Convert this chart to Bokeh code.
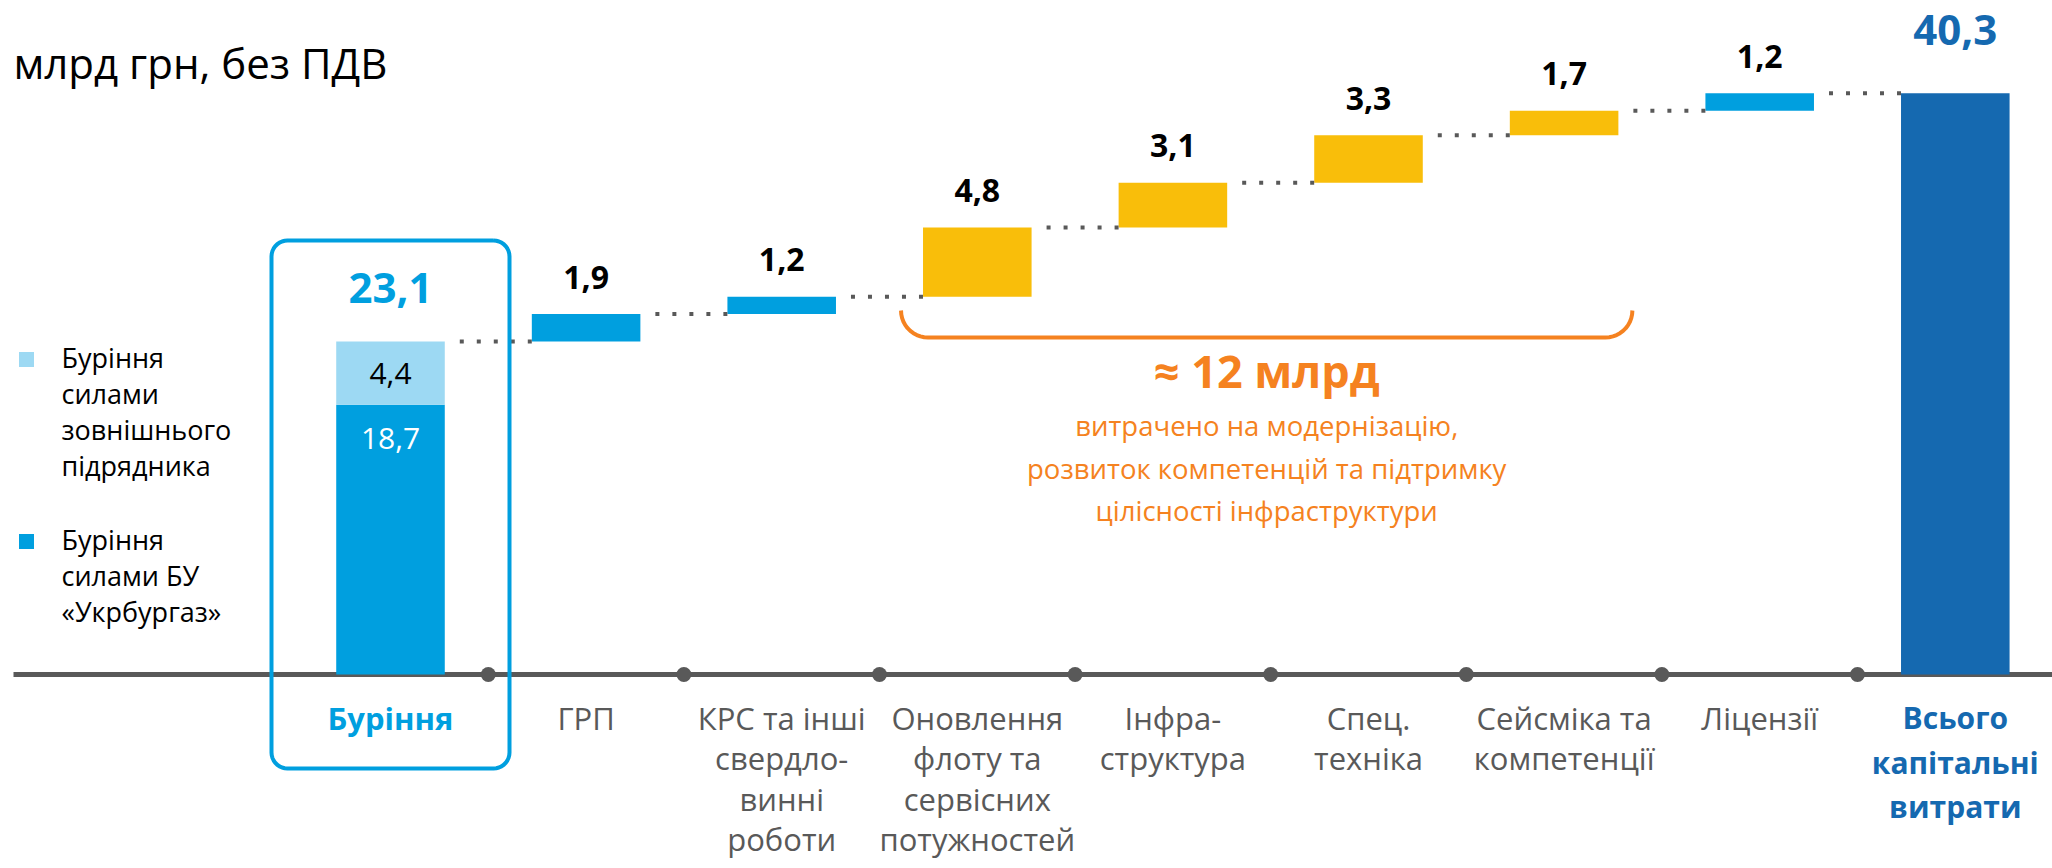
import numpy as np
from bokeh.plotting import figure
from bokeh.models import Range1d
from bokeh.core.properties import value
from bokeh.embed import file_html
from bokeh.resources import INLINE

# ---------------- data ----------------
categories = [
    ["Буріння"],
    ["ГРП"],
    ["КРС та інші", "свердло-", "винні", "роботи"],
    ["Оновлення", "флоту та", "сервісних", "потужностей"],
    ["Інфра-", "структура"],
    ["Спец.", "техніка"],
    ["Сейсміка та", "компетенції"],
    ["Ліцензії"],
    ["Всього", "капітальні", "витрати"],
]
values = [23.1, 1.9, 1.2, 4.8, 3.1, 3.3, 1.7, 1.2, 40.3]
bar_kind = ["start", "drill", "drill", "modern", "modern", "modern", "modern", "drill", "total"]
drill_own = 18.7
drill_external = 4.4
legend_lines = [["Буріння", "силами", "зовнішнього", "підрядника"],
                ["Буріння", "силами БУ", "«Укрбургаз»"]]
title_text = "млрд грн, без ПДВ"
note_big = "≈ 12 млрд"
note_lines = ["витрачено на модернізацію,", "розвиток компетенцій та підтримку",
              "цілісності інфраструктури"]

# ---------------- style ----------------
BLUE = "#009FDF"
LIGHT = "#9DD9F3"
YELLOW = "#F9BE0A"
DARK = "#1569B0"
GREY = "#595959"
ORANGE = "#F58220"
FONT = "Open Sans"
kind_color = {"start": BLUE, "drill": BLUE, "modern": YELLOW, "total": DARK}

W, H = 2052, 868
PX_X = 195.6          # px per category
PX_Y = 14.42          # px per unit
CX0, BASE = 390.0, 674.0  # px of category 0 centre and baseline
BAR_W = 0.555

x_start = -CX0 / PX_X
y_end = BASE / PX_Y


def px2x(px):
    return x_start + px / PX_X


def px2y(py):
    return (BASE - py) / PX_Y


p = figure(width=W, height=H, output_backend="svg", toolbar_location=None,
           x_range=Range1d(x_start, x_start + W / PX_X),
           y_range=Range1d(y_end - H / PX_Y, y_end),
           min_border=0, outline_line_color=None)
p.axis.visible = False
p.grid.visible = False
p.background_fill_color = "white"
p.border_fill_color = "white"

fmt = lambda v: f"{v:.1f}".replace(".", ",")

n = len(values)
idx = list(range(n))

# running totals
tops, bottoms = [], []
run = 0.0
for i, (v, k) in enumerate(zip(values, bar_kind)):
    if k == "start":
        bottoms.append(0.0); run = v; tops.append(run)
    elif k == "total":
        bottoms.append(0.0); tops.append(v)
    else:
        bottoms.append(run); run = run + v; tops.append(run)

# axis line
p.segment(x0=[px2x(13)], y0=[0], x1=[px2x(2060)], y1=[0], line_color=GREY, line_width=5)

# stacked drilling bar
p.vbar(x=[0], bottom=[0], top=[drill_own], width=BAR_W, fill_color=BLUE, line_color=None)
p.vbar(x=[0], bottom=[drill_own], top=[drill_own + drill_external], width=BAR_W,
       fill_color=LIGHT, line_color=None)

# floating + total bars
fl = [i for i in idx if bar_kind[i] != "start"]
p.vbar(x=fl, bottom=[bottoms[i] for i in fl], top=[tops[i] for i in fl], width=BAR_W,
       fill_color=[kind_color[bar_kind[i]] for i in fl], line_color=None)

# connectors
gap = 15 / PX_X
for i in range(n - 1):
    lvl = tops[i]
    p.segment(x0=[i + BAR_W / 2 + gap], y0=[lvl], x1=[i + 1 - BAR_W / 2], y1=[lvl],
              line_color=GREY, line_width=4, line_dash="4 13")

# tick dots
p.scatter(x=[i + 0.5 for i in range(n - 1)], y=[0] * (n - 1), size=15,
          fill_color=GREY, line_color=None)

# value labels above floating bars
p.text(x=fl[:-1], y=[tops[i] for i in fl[:-1]], text=[fmt(values[i]) for i in fl[:-1]],
       y_offset=-37, text_align="center", text_baseline="middle",
       text_font=value(FONT), text_font_style="bold", text_font_size="32px", text_color="black")
p.text(x=[n - 1], y=[values[-1]], text=[fmt(values[-1])], y_offset=-63,
       text_align="center", text_baseline="middle", text_font=value(FONT),
       text_font_style="bold", text_font_size="42px", text_color=DARK)
p.text(x=[0], y=[values[0]], text=[fmt(values[0])], y_offset=-53,
       text_align="center", text_baseline="middle", text_font=value(FONT),
       text_font_style="bold", text_font_size="42px", text_color=BLUE)
p.text(x=[0], y=[drill_own + drill_external / 2], text=[fmt(drill_external)],
       text_align="center", text_baseline="middle", text_font=value(FONT),
       text_font_size="30px", text_color="black")
p.text(x=[0], y=[drill_own], text=[fmt(drill_own)], y_offset=34,
       text_align="center", text_baseline="middle", text_font=value(FONT),
       text_font_size="30px", text_color="white")

# category labels
lx, ly, lt, lc, lw, ls = [], [], [], [], [], []
for i, lines in enumerate(categories):
    last = i == n - 1
    for j, s in enumerate(lines):
        lx.append(i); ly.append(43 + (44.5 if last else 40.5) * j); lt.append(s)
        lc.append(BLUE if i == 0 else (DARK if last else GREY))
        lw.append("bold" if i in (0, n - 1) else "normal")
        ls.append("30px" if last else "31px")
p.text(x=lx, y=[0] * len(lx), y_offset=ly, text=lt, text_color=lc, text_font_style=lw,
       text_align="center", text_baseline="middle", text_font=value(FONT),
       text_font_size=ls)

# highlight box around drilling
def rounded_rect(l, t, r, b, rad, k=10):
    pts = []
    corners = [(r - rad, t + rad, -90, 0), (r - rad, b - rad, 0, 90),
               (l + rad, b - rad, 90, 180), (l + rad, t + rad, 180, 270)]
    for cx, cy, a0, a1 in corners:
        for a in np.linspace(np.radians(a0), np.radians(a1), k):
            pts.append((cx + rad * np.cos(a), cy + rad * np.sin(a)))
    pts.append(pts[0])
    return [px2x(a) for a, _ in pts], [px2y(b_) for _, b_ in pts]

hx, hy = rounded_rect(CX0 - 119, 240, CX0 + 119, 768, 16)
p.line(hx, hy, line_color=BLUE, line_width=4)

# orange bracket under the modernisation bars
mod = [i for i in idx if bar_kind[i] == "modern"]
bl = CX0 + mod[0] * PX_X - BAR_W / 2 * PX_X - 22
br = CX0 + mod[-1] * PX_X + BAR_W / 2 * PX_X + 14
bt, bb, rad = 310, 337, 27
pts = []
for a in np.linspace(np.pi, np.pi / 2, 12):
    pts.append((bl + rad + rad * np.cos(a), bt + rad * np.sin(a)))
for a in np.linspace(np.pi / 2, 0, 12):
    pts.append((br - rad + rad * np.cos(a), bt + rad * np.sin(a)))
p.line([px2x(a) for a, _ in pts], [px2y(b_) for _, b_ in pts], line_color=ORANGE, line_width=4)

mid = (bl + br) / 2
p.text(x=[px2x(mid)], y=[px2y(370)], text=[note_big], text_align="center",
       text_baseline="middle", text_font=value(FONT), text_font_style="bold",
       text_font_size="45px", text_color=ORANGE)
p.text(x=[px2x(mid)] * 3, y=[px2y(v) for v in (425, 468, 510)], text=note_lines,
       text_align="center", text_baseline="middle", text_font=value(FONT),
       text_font_size="27.5px", text_color=ORANGE)

# title
p.text(x=[px2x(13)], y=[px2y(62)], text=[title_text], text_align="left",
       text_baseline="middle", text_font=value(FONT), text_font_size="42px",
       text_color="black")

# legend
p.scatter(x=[px2x(26), px2x(26)], y=[px2y(359), px2y(541)], marker="square", size=15,
          fill_color=[LIGHT, BLUE], line_color=None)
gx, gy, gt = [], [], []
for start, lines in zip((357, 539), legend_lines):
    for j, s in enumerate(lines):
        gx.append(px2x(61)); gy.append(px2y(start + 36 * j)); gt.append(s)
p.text(x=gx, y=gy, text=gt, text_align="left", text_baseline="middle",
       text_font=value(FONT), text_font_size="27px", text_color="black")

open("out.html", "w").write(file_html(p, INLINE))
